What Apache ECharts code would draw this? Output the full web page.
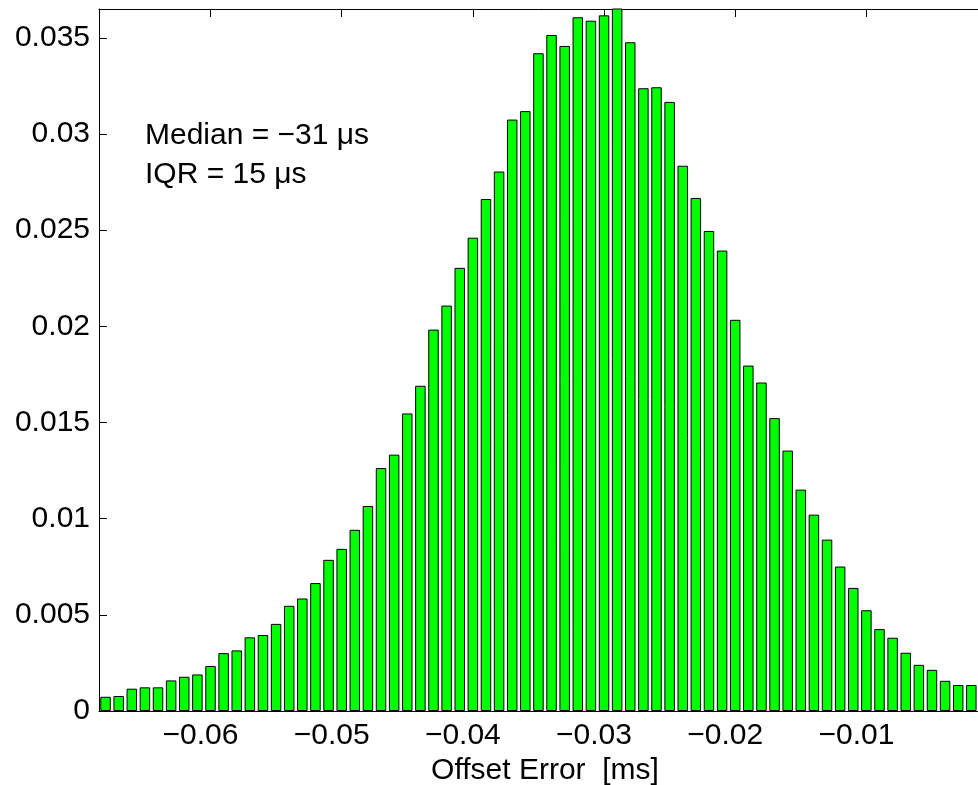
<!DOCTYPE html>
<html>
<head>
<meta charset="utf-8">
<script src="https://cdn.jsdelivr.net/npm/echarts@6/dist/echarts.min.js"></script>
<style>
  html, body { margin: 0; padding: 0; background: #fff; }
  #chart { width: 978px; height: 785px; }
</style>
</head>
<body>
<div id="chart"></div>
<script>
// Histogram bin centres (ms) and normalised frequencies
const binCenters = [
  -0.068, -0.067, -0.066, -0.065, -0.064, -0.063, -0.062, -0.061, -0.060, -0.059,
  -0.058, -0.057, -0.056, -0.055, -0.054, -0.053, -0.052, -0.051, -0.050, -0.049,
  -0.048, -0.047, -0.046, -0.045, -0.044, -0.043, -0.042, -0.041, -0.040, -0.039,
  -0.038, -0.037, -0.036, -0.035, -0.034, -0.033, -0.032, -0.031, -0.030, -0.029,
  -0.028, -0.027, -0.026, -0.025, -0.024, -0.023, -0.022, -0.021, -0.020, -0.019,
  -0.018, -0.017, -0.016, -0.015, -0.014, -0.013, -0.012, -0.011, -0.010, -0.009,
  -0.008, -0.007, -0.006, -0.005, -0.004, -0.003, -0.002
];
const frequencies = [
  0.00074, 0.00078, 0.00116, 0.00123, 0.00123, 0.00159, 0.00178, 0.00190, 0.00234, 0.00301,
  0.00315, 0.00383, 0.00395, 0.00453, 0.00547, 0.00585, 0.00665, 0.00786, 0.00843, 0.00942,
  0.01066, 0.01263, 0.01333, 0.01547, 0.01691, 0.01983, 0.02108, 0.02304, 0.02461, 0.02662,
  0.02805, 0.03075, 0.03119, 0.03420, 0.03515, 0.03458, 0.03607, 0.03589, 0.03617, 0.03670,
  0.03477, 0.03238, 0.03243, 0.03167, 0.02835, 0.02667, 0.02496, 0.02394, 0.02034, 0.01796,
  0.01708, 0.01523, 0.01354, 0.01151, 0.01021, 0.00891, 0.00751, 0.00640, 0.00524, 0.00426,
  0.00381, 0.00303, 0.00240, 0.00214, 0.00157, 0.00135, 0.00135
];

// Axis ticks and their labels
const xTickValues = [-0.06, -0.05, -0.04, -0.03, -0.02, -0.01];
const xTickLabels = ['\u22120.06', '\u22120.05', '\u22120.04', '\u22120.03', '\u22120.02', '\u22120.01'];
const yTickValues = [0, 0.005, 0.01, 0.015, 0.02, 0.025, 0.03, 0.035];
const yTickLabels = ['0', '0.005', '0.01', '0.015', '0.02', '0.025', '0.03', '0.035'];

const xAxisTitle = 'Offset Error  [ms]';
const statsLines = ['Median = \u221231 \u03bcs', 'IQR = 15 \u03bcs'];

const FONT = "'Liberation Sans', Arial, Helvetica, sans-serif";
const FONT_SIZE = 30;
const X_MIN = -0.0685, X_MAX = -0.0005;
const Y_MIN = 0, Y_MAX = 0.0365;

function lookup(values, labels) {
  return function (v) {
    for (let i = 0; i < values.length; i++) {
      if (Math.abs(values[i] - v) < 1e-9) return labels[i];
    }
    return '';
  };
}

const chart = echarts.init(document.getElementById('chart'), null, { renderer: 'canvas' });

const tickStyle = { show: true, inside: true, length: 8, lineStyle: { color: '#000', width: 1 } };

chart.setOption({
  animation: false,
  backgroundColor: '#ffffff',
  grid: {
    left: 99, top: 9, width: 892, height: 702,
    containLabel: false,
    outerBoundsMode: 'none'
  },
  xAxis: [
    {
      type: 'value',
      position: 'bottom',
      min: X_MIN,
      max: X_MAX,
      axisLine: { show: true, onZero: false, lineStyle: { color: '#000', width: 1 } },
      axisTick: Object.assign({ customValues: xTickValues }, tickStyle),
      axisLabel: {
        customValues: xTickValues,
        formatter: lookup(xTickValues, xTickLabels),
        color: '#000',
        fontFamily: FONT,
        fontSize: FONT_SIZE,
        margin: 10,
        padding: [0, 20, 0, 0]
      },
      splitLine: { show: false },
      name: xAxisTitle,
      nameLocation: 'middle',
      nameGap: 41,
      nameTextStyle: { color: '#000', fontFamily: FONT, fontSize: FONT_SIZE }
    },
    {
      type: 'value',
      position: 'top',
      min: X_MIN,
      max: X_MAX,
      axisLine: { show: true, onZero: false, lineStyle: { color: '#000', width: 1 } },
      axisTick: Object.assign({ customValues: xTickValues }, tickStyle),
      axisLabel: { show: false },
      splitLine: { show: false }
    }
  ],
  yAxis: {
    type: 'value',
    min: Y_MIN,
    max: Y_MAX,
    axisLine: { show: true, onZero: false, lineStyle: { color: '#000', width: 1 } },
    axisTick: Object.assign({ customValues: yTickValues }, tickStyle),
    axisLabel: {
      customValues: yTickValues,
      formatter: lookup(yTickValues, yTickLabels),
      color: '#000',
      fontFamily: FONT,
      fontSize: FONT_SIZE,
      margin: 9
    },
    splitLine: { show: false }
  },
  series: [
    {
      type: 'bar',
      xAxisIndex: 0,
      barWidth: '80%',
      clip: true,
      itemStyle: { color: '#00ff00', borderColor: '#000000', borderWidth: 1 },
      data: binCenters.map((x, i) => [x, frequencies[i]])
    }
  ],
  graphic: [
    {
      type: 'text',
      left: 145,
      top: 116,
      style: {
        text: statsLines.join('\n'),
        fill: '#000',
        font: FONT_SIZE + 'px ' + FONT,
        lineHeight: 39
      }
    }
  ]
});
</script>
</body>
</html>
